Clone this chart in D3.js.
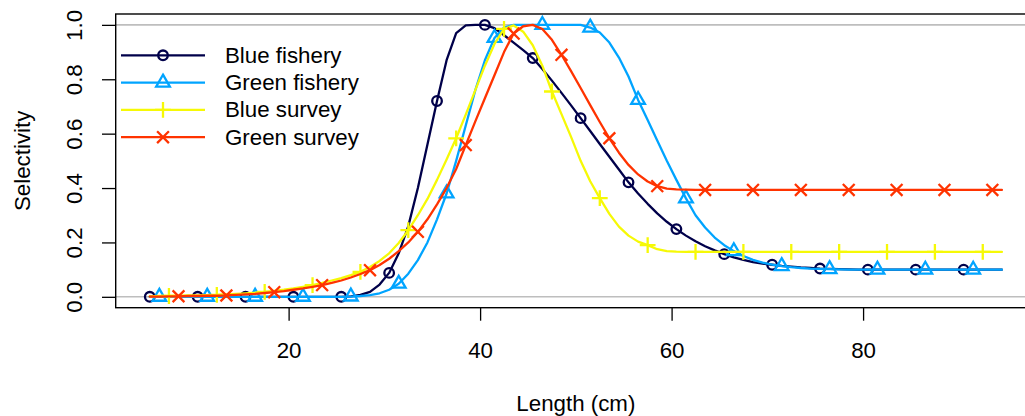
<!DOCTYPE html>
<html>
<head>
<meta charset="utf-8">
<script src="https://cdn.jsdelivr.net/npm/d3@7"></script>
<style>
  body { margin: 0; background: #fff; }
  text { font-family: "Liberation Sans", Arial, Helvetica, sans-serif; }
</style>
</head>
<body>
<div id="my_dataviz"></div>
<script>
// Length bins (cm)
const lengths = [
  5.5, 6.5, 7.5, 8.5, 9.5, 10.5, 11.5, 12.5, 13.5, 14.5,
  15.5, 16.5, 17.5, 18.5, 19.5, 20.5, 21.5, 22.5, 23.5, 24.5,
  25.5, 26.5, 27.5, 28.5, 29.5, 30.5, 31.5, 32.5, 33.5, 34.5,
  35.5, 36.5, 37.5, 38.5, 39.5, 40.5, 41.5, 42.5, 43.5, 44.5,
  45.5, 46.5, 47.5, 48.5, 49.5, 50.5, 51.5, 52.5, 53.5, 54.5,
  55.5, 56.5, 57.5, 58.5, 59.5, 60.5, 61.5, 62.5, 63.5, 64.5,
  65.5, 66.5, 67.5, 68.5, 69.5, 70.5, 71.5, 72.5, 73.5, 74.5,
  75.5, 76.5, 77.5, 78.5, 79.5, 80.5, 81.5, 82.5, 83.5, 84.5,
  85.5, 86.5, 87.5, 88.5, 89.5, 90.5, 91.5, 92.5, 93.5, 94.5
];

// Selectivity at length
const blueFishery = [
  0, 0, 0, 0, 0, 0, 0, 0, 0, 0,
  0, 0, 0, 0, 0, 0, 0, 0, 0, 0,
  0, 0.002, 0.007, 0.018, 0.045, 0.088, 0.16, 0.26, 0.40, 0.56,
  0.72, 0.87, 0.97, 0.998, 1.0, 1.0, 0.988, 0.962, 0.935, 0.907,
  0.878, 0.838, 0.795, 0.75, 0.704, 0.657, 0.61, 0.562, 0.515, 0.468,
  0.421, 0.38, 0.342, 0.307, 0.276, 0.249, 0.225, 0.204, 0.186, 0.171,
  0.157, 0.145, 0.136, 0.128, 0.122, 0.118, 0.114, 0.111, 0.108, 0.106,
  0.104, 0.103, 0.102, 0.101, 0.1, 0.1, 0.1, 0.1, 0.1, 0.1,
  0.1, 0.1, 0.1, 0.1, 0.1, 0.1, 0.1, 0.1, 0.1, 0.1
];
const greenFishery = [
  0, 0, 0, 0, 0, 0, 0, 0, 0, 0,
  0, 0, 0, 0, 0, 0, 0, 0, 0, 0,
  0, 0.001, 0.003, 0.006, 0.013, 0.026, 0.048, 0.085, 0.135, 0.2,
  0.285, 0.38, 0.5, 0.63, 0.76, 0.87, 0.952, 0.99, 1.0, 1.0,
  1.0, 1.0, 1.0, 1.0, 1.0, 1.0, 0.99, 0.972, 0.935, 0.88,
  0.81, 0.724, 0.65, 0.575, 0.5, 0.43, 0.362, 0.30, 0.255, 0.218,
  0.19, 0.168, 0.15, 0.136, 0.126, 0.118, 0.113, 0.109, 0.106, 0.104,
  0.103, 0.102, 0.101, 0.1, 0.1, 0.1, 0.1, 0.1, 0.1, 0.1,
  0.1, 0.1, 0.1, 0.1, 0.1, 0.1, 0.1, 0.1, 0.1, 0.1
];
const blueSurvey = [
  0.002, 0.003, 0.003, 0.004, 0.005, 0.005, 0.006, 0.007, 0.009, 0.011,
  0.013, 0.015, 0.018, 0.022, 0.026, 0.031, 0.037, 0.043, 0.051, 0.06,
  0.069, 0.08, 0.092, 0.11, 0.132, 0.16, 0.198, 0.245, 0.3, 0.36,
  0.43, 0.505, 0.583, 0.67, 0.76, 0.85, 0.93, 0.985, 0.998, 0.975,
  0.925, 0.85, 0.755, 0.672, 0.588, 0.5, 0.425, 0.363, 0.305, 0.258,
  0.225, 0.203, 0.19, 0.175, 0.168, 0.166, 0.165, 0.165, 0.165, 0.165,
  0.165, 0.165, 0.165, 0.165, 0.165, 0.165, 0.165, 0.165, 0.165, 0.165,
  0.165, 0.165, 0.165, 0.165, 0.165, 0.165, 0.165, 0.165, 0.165, 0.165,
  0.165, 0.165, 0.165, 0.165, 0.165, 0.165, 0.165, 0.165, 0.165, 0.165
];
const greenSurvey = [
  0.001, 0.001, 0.002, 0.002, 0.003, 0.003, 0.004, 0.004, 0.005, 0.007,
  0.009, 0.011, 0.014, 0.017, 0.021, 0.026, 0.031, 0.037, 0.043, 0.051,
  0.06, 0.071, 0.084, 0.098, 0.117, 0.14, 0.168, 0.2, 0.239, 0.285,
  0.34, 0.4, 0.47, 0.558, 0.645, 0.73, 0.815, 0.9, 0.968, 0.995,
  1.0, 0.985, 0.945, 0.89, 0.83, 0.768, 0.705, 0.643, 0.583, 0.53,
  0.485, 0.45, 0.424, 0.407, 0.398, 0.395, 0.394, 0.393, 0.393, 0.393,
  0.393, 0.393, 0.393, 0.393, 0.393, 0.393, 0.393, 0.393, 0.393, 0.393,
  0.393, 0.393, 0.393, 0.393, 0.393, 0.393, 0.393, 0.393, 0.393, 0.393,
  0.393, 0.393, 0.393, 0.393, 0.393, 0.393, 0.393, 0.393, 0.393, 0.393
];

const seriesNames = ["Blue fishery", "Green fishery", "Blue survey", "Green survey"];
const seriesValues = [blueFishery, greenFishery, blueSurvey, greenSurvey];
const seriesColors = ["#00004A", "#00A4FF", "#F6F906", "#FF3300"];
const seriesSymbols = ["circle", "triangle", "plus", "cross"];

const xTicks = [20, 40, 60, 80];
const yTicks = [0, 0.2, 0.4, 0.6, 0.8, 1.0];

// Size of the page and plot region (R-like margins, right side runs off the page)
const W = 1025, H = 416;
const plot = { left: 115.7, top: 14, right: 1036, bottom: 307.7 };
const fontSize = "22.3px";

var svg = d3.select("#my_dataviz")
  .append("svg")
  .attr("width", W)
  .attr("height", H);

// R pads the data range by 4% on each side
const xMin = d3.min(lengths), xMax = d3.max(lengths);
const xPad = (xMax - xMin) * 0.04;
var xScale = d3.scaleLinear()
  .domain([xMin - xPad, xMax + xPad])
  .range([plot.left, plot.right]);

var yScale = d3.scaleLinear()
  .domain([-0.04, 1.04])
  .range([plot.bottom, plot.top]);

// Grey reference lines at 0 and 1
svg.selectAll(".refline")
  .data([0, 1])
  .enter()
  .append("line")
  .attr("class", "refline")
  .attr("x1", plot.left)
  .attr("x2", plot.right)
  .attr("y1", d => yScale(d))
  .attr("y2", d => yScale(d))
  .attr("stroke", "#BEBEBE")
  .attr("stroke-width", 1.6);

// Draw one marker
function drawSymbol(g, type, x, y, color) {
  var p;
  if (type === "circle") {
    g.append("circle")
      .attr("cx", x).attr("cy", y).attr("r", 4.8)
      .attr("fill", "none").attr("stroke", color).attr("stroke-width", 2.3);
    return;
  } else if (type === "triangle") {
    p = `M${x},${y - 7.9}L${x + 6.85},${y + 3.95}L${x - 6.85},${y + 3.95}Z`;
  } else if (type === "plus") {
    p = `M${x - 7.9},${y}H${x + 7.9}M${x},${y - 7.9}V${y + 7.9}`;
  } else {
    p = `M${x - 5.9},${y - 5.9}L${x + 5.9},${y + 5.9}M${x - 5.9},${y + 5.9}L${x + 5.9},${y - 5.9}`;
  }
  g.append("path")
    .attr("d", p)
    .attr("fill", "none")
    .attr("stroke", color)
    .attr("stroke-width", 2.3)
    .attr("stroke-linejoin", "miter");
}

var line = d3.line()
  .x(d => xScale(d[0]))
  .y(d => yScale(d[1]));

// Lines and points, every 5th bin, each series shifted by one bin
seriesValues.forEach((vals, s) => {
  const pts = lengths.map((l, i) => [l, vals[i]]);
  const g = svg.append("g");
  g.append("path")
    .datum(pts)
    .attr("d", line)
    .attr("fill", "none")
    .attr("stroke", seriesColors[s])
    .attr("stroke-width", 2.3)
    .attr("stroke-linejoin", "round")
    .attr("stroke-linecap", "round");
  pts.forEach((d, i) => {
    if (i >= s && (i - s) % 5 === 0) {
      drawSymbol(g, seriesSymbols[s], xScale(d[0]), yScale(d[1]), seriesColors[s]);
    }
  });
});

// Plot box
svg.append("rect")
  .attr("x", plot.left)
  .attr("y", plot.top)
  .attr("width", plot.right - plot.left)
  .attr("height", plot.bottom - plot.top)
  .attr("fill", "none")
  .attr("stroke", "#000")
  .attr("stroke-width", 1.4);

// X axis
var xAxis = svg.append("g")
  .attr("transform", "translate(0," + plot.bottom + ")")
  .call(d3.axisBottom(xScale).tickValues(xTicks).tickSize(13).tickPadding(21));
xAxis.select(".domain").remove();
xAxis.selectAll("line").attr("stroke", "#000").attr("stroke-width", 1.3);
xAxis.selectAll("text")
  .attr("fill", "#000")
  .style("font-size", fontSize)
  .style("font-family", '"Liberation Sans", Arial, sans-serif');

// Y axis, labels turned like R's default
var yAxis = svg.append("g")
  .attr("transform", "translate(" + plot.left + ",0)")
  .call(d3.axisLeft(yScale).tickValues(yTicks).tickSize(13.7).tickFormat(d3.format(".1f")));
yAxis.select(".domain").remove();
yAxis.selectAll("line").attr("stroke", "#000").attr("stroke-width", 1.3);
yAxis.selectAll("text")
  .attr("x", null)
  .attr("dy", null)
  .attr("transform", "translate(-33.7,0) rotate(-90)")
  .attr("text-anchor", "middle")
  .attr("fill", "#000")
  .style("font-size", fontSize)
  .style("font-family", '"Liberation Sans", Arial, sans-serif');

// Axis titles
svg.append("text")
  .attr("x", (plot.left + plot.right) / 2)
  .attr("y", 411)
  .style("text-anchor", "middle")
  .style("font-size", fontSize)
  .text("Length (cm)");

svg.append("text")
  .attr("transform", "translate(30," + ((plot.top + plot.bottom) / 2) + ") rotate(-90)")
  .style("text-anchor", "middle")
  .style("font-size", fontSize)
  .text("Selectivity");

// Legend (no box)
const legendRowY = [55.3, 82.6, 109.9, 137.2];
seriesNames.forEach((name, s) => {
  const g = svg.append("g");
  const y = legendRowY[s];
  g.append("line")
    .attr("x1", 121).attr("x2", 205)
    .attr("y1", y).attr("y2", y)
    .attr("stroke", seriesColors[s])
    .attr("stroke-width", 2.3);
  drawSymbol(g, seriesSymbols[s], 163, y, seriesColors[s]);
  g.append("text")
    .attr("x", 225)
    .attr("y", y)
    .attr("dominant-baseline", "central")
    .style("font-size", fontSize)
    .text(name);
});
</script>
</body>
</html>
